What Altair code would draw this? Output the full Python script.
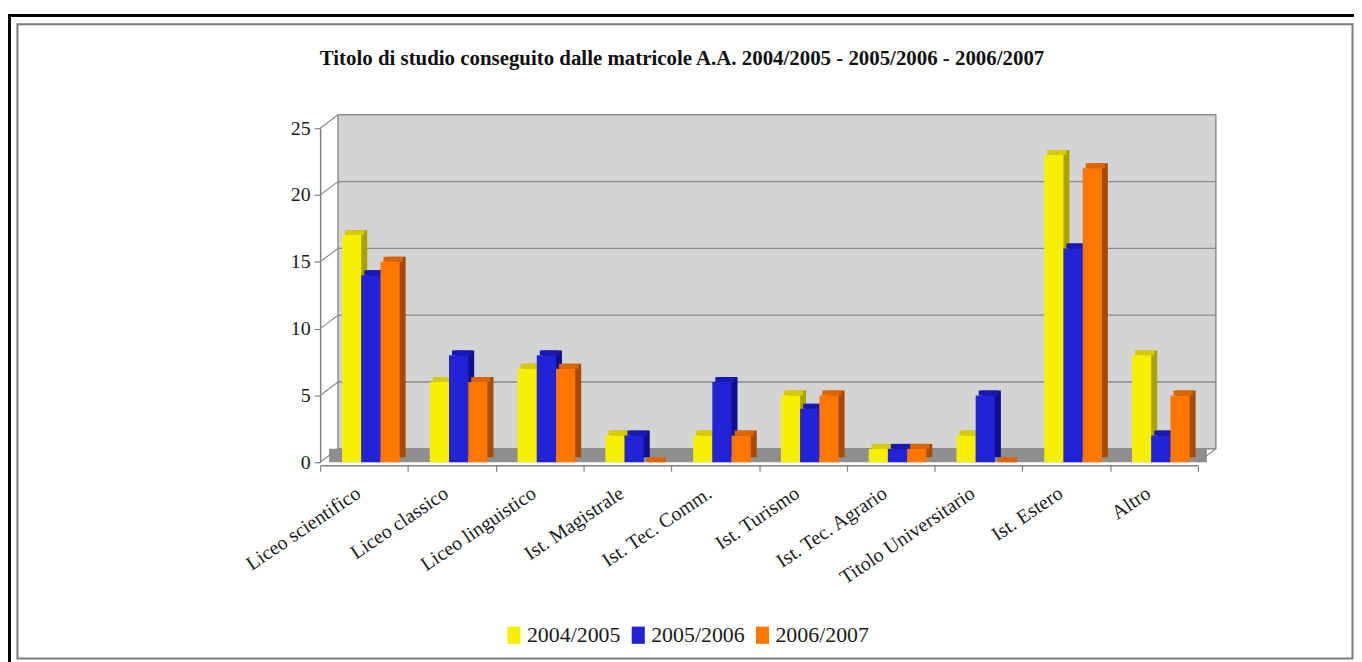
import altair as alt
import pandas as pd

# ---------------- data ----------------
categories = [
    "Liceo scientifico", "Liceo classico", "Liceo linguistico", "Ist. Magistrale",
    "Ist. Tec. Comm.", "Ist. Turismo", "Ist. Tec. Agrario", "Titolo Universitario",
    "Ist. Estero", "Altro",
]
series_names = ["2004/2005", "2005/2006", "2006/2007"]
values_2004_2005 = [17, 6, 7, 2, 2, 5, 1, 2, 23, 8]
values_2005_2006 = [14, 8, 8, 2, 6, 4, 1, 5, 16, 2]
values_2006_2007 = [15, 6, 7, 0, 2, 5, 1, 0, 22, 5]
y_ticks = [0, 5, 10, 15, 20, 25]
grid_values = [5, 10, 15, 20]

front_colors = ["#f6ef00", "#2222d6", "#ff7700"]
side_colors = ["#a9a200", "#10108c", "#a54c00"]
top_colors = ["#d4cc00", "#1919b2", "#dc6500"]

title_text = "Titolo di studio conseguito dalle matricole A.A. 2004/2005 - 2005/2006 - 2006/2007"

rows = []
for i, (name, vals) in enumerate(zip(series_names, [values_2004_2005, values_2005_2006, values_2006_2007])):
    for c, v in zip(categories, vals):
        rows.append({"cat": c, "series": name, "value": v,
                     "side": side_colors[i], "top": top_colors[i]})
df = pd.DataFrame(rows)
dummy = pd.DataFrame({"d": [0]})
grid_df = pd.DataFrame({"v": grid_values})
tick_df = pd.DataFrame({"v": y_ticks})

# ---------------- layout ----------------
W, H = 883, 336
DX, DY = 18, 13.5
FONT = "Liberation Serif"

yscale = alt.Scale(domain=[0, 25], nice=False, zero=True)
xscale = alt.Scale(paddingInner=0, paddingOuter=0)

x_axis = alt.Axis(title=None, labelAngle=326, labelAlign="right", labelBaseline="middle",
                  labelFont=FONT, labelFontSize=20, labelColor="#1a1a1a",
                  labelPadding=20, labelOffset=-6, offset=3,
                  domainColor="#808080", domainWidth=1.5,
                  tickColor="#808080", tickWidth=1.2, tickSize=6, tickBand="extent")
y_axis = alt.Axis(title=None, values=y_ticks, grid=False,
                  labelFont=FONT, labelFontSize=20, labelColor="#1a1a1a", labelPadding=4,
                  domainColor="#808080", domainWidth=1.5,
                  tickColor="#808080", tickWidth=1.2, tickSize=6)

X = alt.X("cat:N", sort=categories, scale=xscale, axis=x_axis)


def Yq(field):
    return alt.Y(field, scale=yscale, axis=y_axis)


def Yd(v):
    return alt.Y(datum=v, scale=yscale, axis=y_axis)


# outer borders
border_black = alt.Chart(dummy).mark_rect(fillOpacity=0, stroke="black", strokeWidth=3).encode(
    x=alt.value(-312.5), x2=alt.value(1100), y=alt.value(-113.5), y2=alt.value(700))
border_gray = alt.Chart(dummy).mark_rect(fillOpacity=0, stroke="#7a7a7a", strokeWidth=2).encode(
    x=alt.value(-304.5), x2=alt.value(1038.5), y=alt.value(-104.5), y2=alt.value(533.5))

# title as text
title = alt.Chart(dummy).mark_text(font=FONT, fontSize=21, fontWeight="bold", color="#111111",
                                   align="center", baseline="middle").encode(
    x=alt.value(364), y=alt.value(-70), text=alt.value(title_text))

# back wall
wall = alt.Chart(dummy).mark_rect(fill="#d4d4d4", stroke="#8e8e8e", strokeWidth=1.5,
                                  yOffset=-DY, y2Offset=-DY).encode(
    x=alt.value(DX), x2=alt.value(W + DX), y=Yd(25), y2=alt.Y2(datum=0))

# floor
floor = alt.Chart(dummy).mark_rect(fill="#8f8f8f", y2Offset=-DY).encode(
    x=alt.value(DX / 2), x2=alt.value(W + DX / 2), y=Yd(0), y2=alt.Y2(datum=0))

grid = alt.Chart(grid_df).mark_rule(color="#8a8a8a", strokeWidth=1.3, yOffset=-DY).encode(
    x=alt.value(DX), x2=alt.value(W + DX), y=Yq("v:Q"))

connectors = alt.Chart(tick_df).mark_rule(color="#8a8a8a", strokeWidth=1.2, y2Offset=-DY).encode(
    x=alt.value(0), x2=alt.value(DX), y=Yq("v:Q"), y2=alt.Y2("v:Q"))

floor_edge = alt.Chart(dummy).mark_rule(color="#8a8a8a", strokeWidth=1.2, y2Offset=-DY).encode(
    x=alt.value(W), x2=alt.value(W + DX), y=Yd(0), y2=alt.Y2(datum=0))

# 3D bar sides and tops
side = alt.Chart(df).mark_bar(yOffset=-5, y2Offset=-5).encode(
    x=X,
    xOffset=alt.XOffset("series:N", sort=series_names,
                        scale=alt.Scale(range=[28, 86], paddingInner=0, paddingOuter=0)),
    y=Yq("value:Q"),
    color=alt.Color("side:N", scale=None),
)
top = alt.Chart(df).mark_bar(yOffset=-5, y2Offset=0).encode(
    x=X,
    xOffset=alt.XOffset("series:N", sort=series_names,
                        scale=alt.Scale(range=[25, 83], paddingInner=0, paddingOuter=0)),
    y=Yq("value:Q"),
    y2=alt.Y2("value:Q"),
    color=alt.Color("top:N", scale=None),
)

front = alt.Chart(df).mark_bar().encode(
    x=X,
    xOffset=alt.XOffset("series:N", sort=series_names,
                        scale=alt.Scale(range=[22, 80], paddingInner=0, paddingOuter=0)),
    y=Yq("value:Q"),
    color=alt.Color("series:N", sort=series_names,
                    scale=alt.Scale(domain=series_names, range=front_colors),
                    legend=alt.Legend(title=None, orient="none", legendX=184, legendY=499,
                                      direction="horizontal",
                                      symbolType="M-0.76,-1H0.76V1H-0.76Z",
                                      symbolSize=300, symbolStrokeWidth=0, symbolOpacity=1,
                                      labelFont=FONT, labelFontSize=22, labelColor="#1a1a1a",
                                      labelOffset=2, columnPadding=6)),
)

chart = alt.layer(
    border_black, border_gray, title, wall, floor, grid, connectors, floor_edge, side, top, front
).resolve_scale(
    xOffset="independent", color="independent"
).properties(
    width=W, height=H,
    autosize=alt.AutoSizeParams(type="none"),
    padding={"left": 314, "top": 119, "right": 157, "bottom": 199},
).configure_view(strokeWidth=0)

chart.save("out.html", embed_options={"renderer": "svg", "actions": False})
